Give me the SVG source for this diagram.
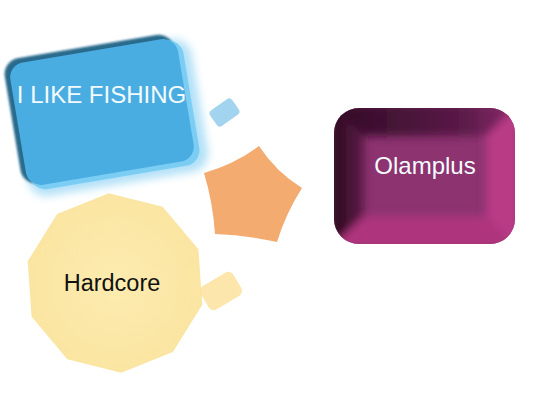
<svg xmlns="http://www.w3.org/2000/svg" width="550" height="400" viewBox="0 0 550 400">
  <defs>
    <style>
      .lbl { font-family: "Liberation Sans", Arial, sans-serif; font-size: 24px; text-anchor: middle; }
      .white { fill: #f4fbff; }
      .black { fill: #111111; }
    </style>
    <filter id="blur4" x="-30%" y="-30%" width="160%" height="160%">
      <feGaussianBlur stdDeviation="4"/>
    </filter>
    <filter id="blur1" x="-10%" y="-10%" width="120%" height="120%">
      <feGaussianBlur stdDeviation="1"/>
    </filter>
    <filter id="bevelBlur" x="-20%" y="-20%" width="140%" height="140%">
      <feGaussianBlur stdDeviation="4"/>
    </filter>
    <clipPath id="purpleClip">
      <rect x="334" y="108" width="181" height="136" rx="25"/>
    </clipPath>
    <linearGradient id="leftBand" x1="0" y1="0" x2="1" y2="0">
      <stop offset="0" stop-color="#260818"/>
      <stop offset="1" stop-color="#5e1c4a"/>
    </linearGradient>
    <linearGradient id="topBand" x1="0" y1="0" x2="1" y2="0">
      <stop offset="0" stop-color="#300b24"/>
      <stop offset="0.7" stop-color="#5a1a48"/>
      <stop offset="1" stop-color="#8a2c6c"/>
    </linearGradient>
    <radialGradient id="yellowGrad" cx="0.5" cy="0.5" r="0.55">
      <stop offset="0" stop-color="#fdecb0"/>
      <stop offset="1" stop-color="#fae4a0"/>
    </radialGradient>
  </defs>

  <rect width="550" height="400" fill="#ffffff"/>

  <g id="hardcore">
    <polygon points="108.7,193.2 162.7,206.7 198.4,249.3 202.3,304.8 172.9,351.9 121.3,372.8 67.3,359.3 31.6,316.7 27.7,261.2 57.1,214.1" fill="url(#yellowGrad)"/>
    <text class="lbl black" x="112" y="291" style="font-size:23.5px">Hardcore</text>
  </g>

  <g id="yellow-square">
    <rect x="-19" y="-13.5" width="38" height="27" rx="6" fill="#fbe096" opacity="0.8" transform="translate(221,291) rotate(-31)"/>
  </g>

  <g id="fishing">
    <g transform="translate(102,112) rotate(-9.5)">
      <rect x="-84" y="-60" width="182" height="134" rx="18" fill="#a6dcf6" opacity="0.85" filter="url(#blur4)"/>
      <rect x="-90" y="-67" width="172" height="127" rx="16" fill="#2a6a8c" filter="url(#blur1)"/>
      <rect x="-82" y="-60" width="172" height="127" rx="16" fill="#7ccdf4"/>
      <rect x="-85" y="-62" width="170" height="124" rx="15" fill="#49ade2"/>
    </g>
    <text class="lbl white" x="101.5" y="102.5">I LIKE FISHING</text>
  </g>

  <g id="blue-square">
    <rect x="-13.5" y="-9.5" width="27" height="19" rx="4" fill="#a3d4ef" transform="translate(224.5,112.5) rotate(-35)"/>
  </g>

  <g id="star">
    <path d="M259,146 Q276,172 302,188 Q286,213 277,242 Q246,235 215,234 Q213,203 204,173 Q235,164 259,146 Z" fill="#f3ab6f"/>
  </g>

  <g id="olamplus">
    <rect x="334" y="108" width="181" height="136" rx="25" fill="#8c3370"/>
    <g clip-path="url(#purpleClip)" filter="url(#bevelBlur)">
      <polygon points="330,104 364,136 364,216 330,248" fill="url(#leftBand)"/>
      <polygon points="330,104 519,104 486,136 364,136" fill="url(#topBand)"/>
      <polygon points="519,104 519,248 486,216 486,136" fill="#b93a86"/>
      <polygon points="330,248 364,216 486,216 519,248" fill="#ae347d"/>
    </g>
    <text class="lbl white" x="425" y="174">Olamplus</text>
  </g>
</svg>
